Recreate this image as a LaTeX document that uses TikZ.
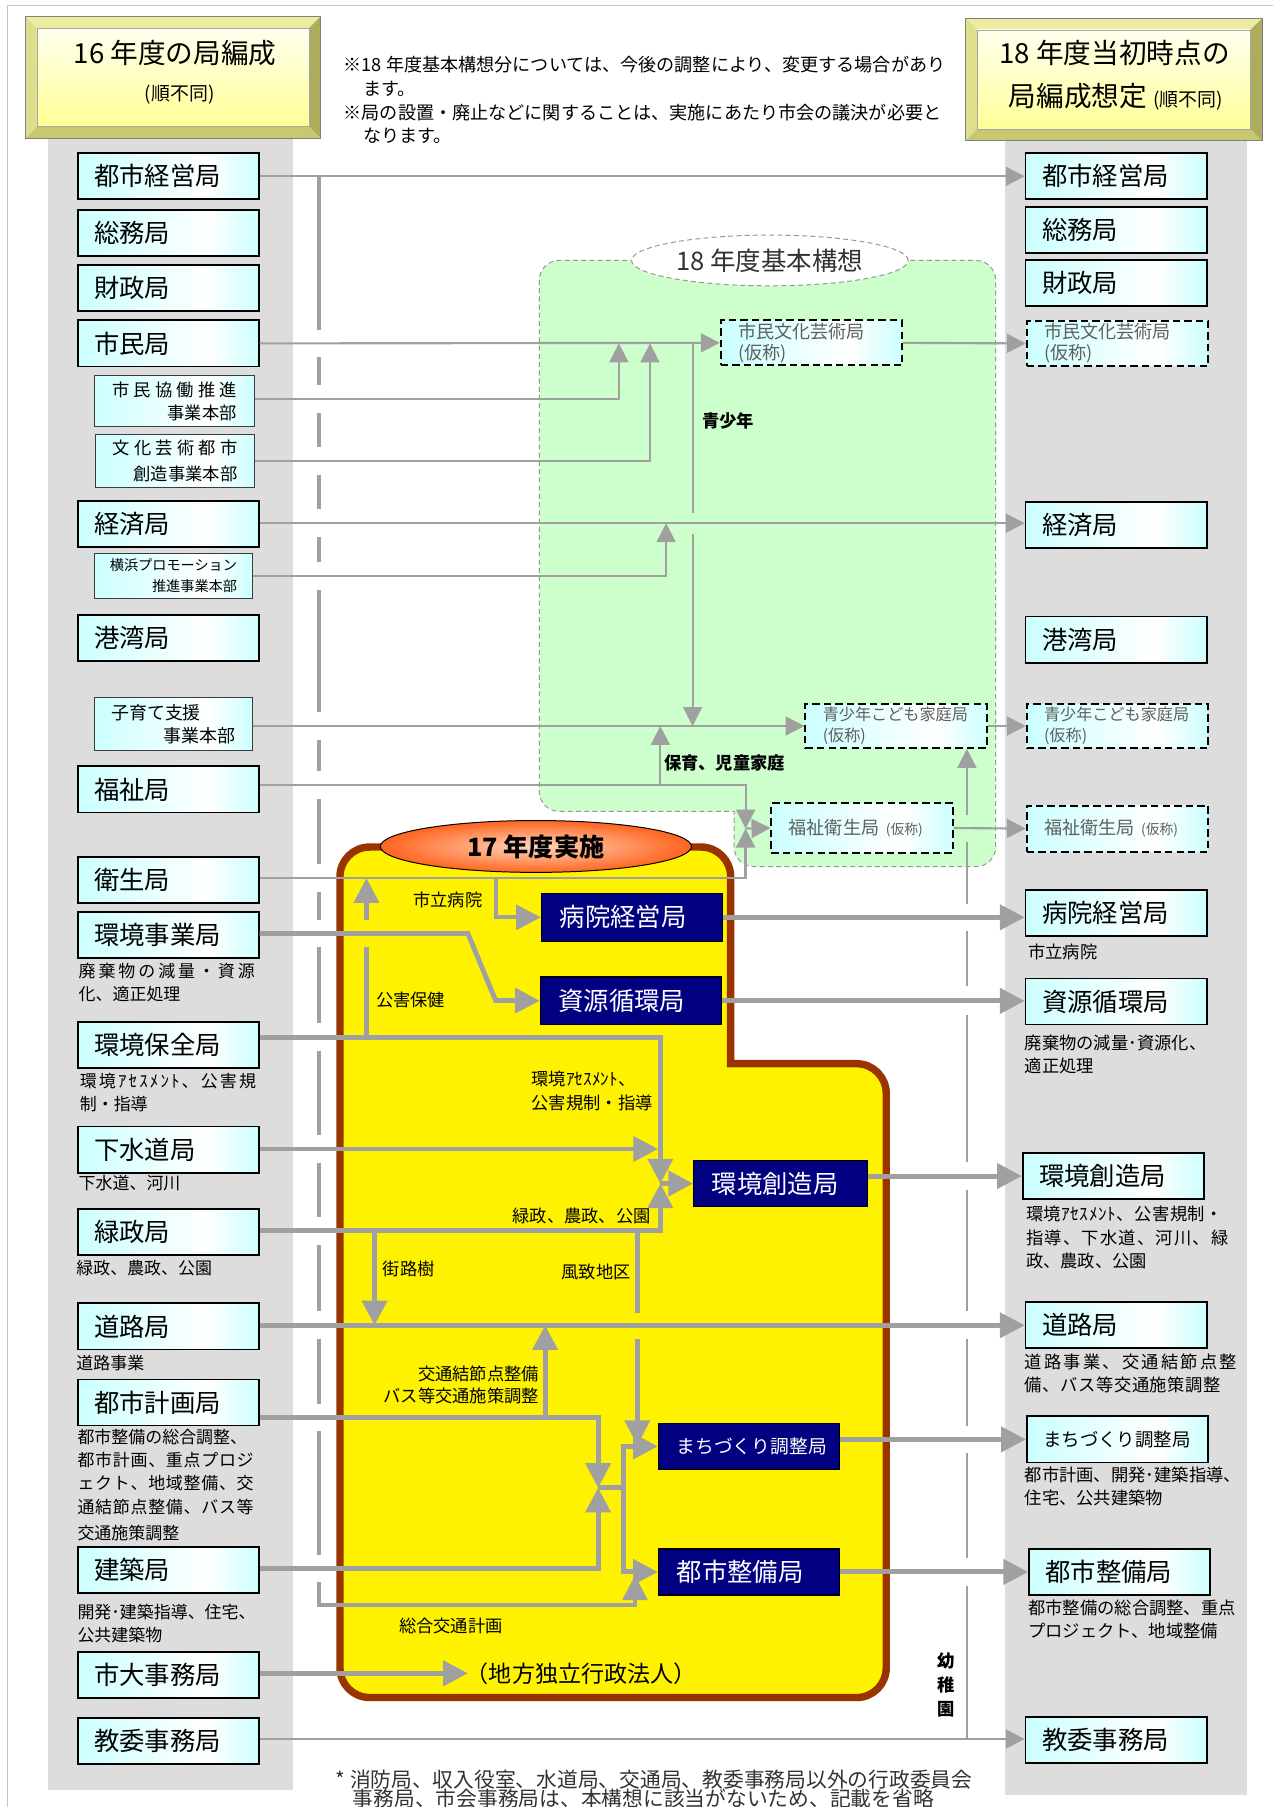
\documentclass[tikz,border=0pt]{standalone}
\usepackage{fontspec}
\setmainfont{Noto Sans CJK JP}
\usetikzlibrary{arrows.meta,shapes.geometric}
\definecolor{cyb}{RGB}{204,255,255}
\definecolor{lg}{RGB}{160,160,160}
\definecolor{colbg}{RGB}{221,221,221}
\definecolor{navyc}{RGB}{0,0,128}
\definecolor{brn}{RGB}{153,51,0}
\definecolor{grn}{RGB}{204,255,204}
\definecolor{bevT}{RGB}{236,236,160}
\definecolor{bevL}{RGB}{222,222,140}
\definecolor{bevR}{RGB}{172,172,92}
\definecolor{bevB}{RGB}{200,200,112}
\definecolor{frm}{RGB}{195,195,195}
\definecolor{dtx}{RGB}{95,95,95}
\pgfdeclarehorizontalshading{cyanbox}{100bp}{color(0bp)=(cyb); color(25bp)=(cyb); color(61bp)=(white); color(75bp)=(cyb); color(100bp)=(cyb)}
\newcommand\fs[2]{\fontsize{#1pt}{#2pt}\selectfont}
\def\SprdA#1{#1\SprdB}
\def\SprdB#1{\ifx#1\relax\else\hfill#1\expandafter\SprdB\fi}
\newcommand\spreadtxt[2]{\makebox[#1][s]{\SprdA#2\relax}}
\newcommand\bevbox[4]{%
  \fill[bevT] (#1,#2) -- (#3,#2) -- ({#3-10},{#2+10}) -- ({#1+10},{#2+10}) -- cycle;
  \fill[bevL] (#1,#2) -- ({#1+10},{#2+10}) -- ({#1+10},{#4-10}) -- (#1,#4) -- cycle;
  \fill[bevR] (#3,#2) -- (#3,#4) -- ({#3-10},{#4-10}) -- ({#3-10},{#2+10}) -- cycle;
  \fill[bevB] (#1,#4) -- ({#1+10},{#4-10}) -- ({#3-10},{#4-10}) -- (#3,#4) -- cycle;
  \shade[top color={rgb,255:red,255;green,255;blue,238}, bottom color={rgb,255:red,255;green,255;blue,150}] ({#1+10},{#2+10}) rectangle ({#3-10},{#4-10});
  \draw[gray, line width=0.5pt] (#1,#2) rectangle (#3,#4);
  \draw[gray!70, line width=0.4pt] ({#1+10},{#2+10}) rectangle ({#3-10},{#4-10});
}
\begin{document}
\begin{tikzpicture}[x=0.7pt,y=-0.7pt,
  lbox/.style={draw=black, line width=1.1pt, shade, shading=cyanbox, minimum width=110pt, minimum height=28pt, inner xsep=10pt, inner ysep=0pt, text width=90pt, align=left, font=\fs{15.4}{18}},
  sbox/.style={draw={rgb,255:red,60;green,60;blue,60}, line width=0.7pt, shade, shading=cyanbox, inner sep=0pt, align=right},
  dbox/.style={draw=black, line width=1.2pt, dash pattern=on 4.5pt off 2.5pt, shade, shading=cyanbox, minimum width=110pt, inner xsep=10.5pt, inner ysep=0pt, text width=89pt, align=left, text=dtx},
  nbox/.style={draw=black, line width=0.8pt, fill=navyc, text=white, minimum width=110pt, minimum height=29pt, inner xsep=11pt, inner ysep=0pt, text width=88pt, align=left, font=\fs{15.4}{18}},
  lcapt/.style={anchor=west, inner sep=0pt, font=\fs{10.3}{12}},
  rcapt/.style={anchor=west, inner sep=0pt, font=\fs{10.5}{12}},
  lab/.style={inner sep=0pt, font=\fs{10.5}{12}},
  notetxt/.style={anchor=west, inner sep=0pt, font=\fs{11}{13}},
  glin/.style={draw=lg, line width=1.3pt},
  gthk/.style={draw=lg, line width=3pt},
  gmid/.style={draw=lg, line width=2.4pt},
  tA/.style={-{Triangle[length=11.5pt,width=11.5pt]}},
  TA/.style={-{Triangle[length=15pt,width=15pt]}}
]
\useasboundingbox (0,0) rectangle (1105,1568);
\fill[white] (0,0) rectangle (1105,1568);
% frame
\draw[frm, line width=0.8pt] (1105,5) -- (6.5,5) -- (6.5,1568);
% gray columns
\fill[colbg] (42,119) rectangle (254,1553);
\fill[colbg] (872,121) rectangle (1082,1558);
% title boxes
\bevbox{22}{14.5}{278}{120}
\bevbox{838}{16}{1095}{122}
\node[font=\fs{16.8}{20}, inner sep=0pt] (t16a) at (152,46) {16 年度の局編成};
\node[font=\fs{11.5}{14}, inner sep=0pt] (t16b) at (156,82) {(順不同)};
\node[font=\fs{16.8}{20}, inner sep=0pt] (t18a) at (967,46) {18 年度当初時点の};
\node[font=\fs{16.8}{20}, inner sep=0pt, anchor=west] (t18b) at (875,84) {局編成想定\hspace{4pt}{\fs{11.5}{14}(順不同)}};
% notes
\node[notetxt] (n1) at (298,56) {※18 年度基本構想分については、今後の調整により、変更する場合があり};
\node[notetxt] (n2) at (315,77) {ます。};
\node[notetxt] (n3) at (298,98) {※局の設置・廃止などに関することは、実施にあたり市会の議決が必要と};
\node[notetxt] (n4) at (315,118) {なります。};
% green region
\filldraw[fill=grn, draw={rgb,255:red,150;green,150;blue,150}, line width=0.6pt, dash pattern=on 3pt off 2pt]
  (468,500) [rounded corners=12pt] -- (468,226) -- (864,226) -- (864,752) -- (637,752) [sharp corners] -- (637,704) [rounded corners=12pt] -- (468,704) -- cycle;
\node[ellipse, draw={rgb,255:red,150;green,150;blue,150}, line width=0.6pt, dash pattern=on 3pt off 2pt, fill=white, minimum width=168pt, minimum height=30.8pt, inner sep=0pt, font=\fs{15.5}{18}, text={rgb,255:red,50;green,50;blue,50}] (e18) at (668,226) {18 年度基本構想};
% yellow region
\filldraw[fill=yellow, draw=brn, line width=4.5pt]
  (295,1100) [rounded corners=18pt] -- (295,735) -- (634,735) [sharp corners] -- (634,923) [rounded corners=18pt] -- (769,923) -- (769,1473) -- (295,1473) -- cycle;
\node[ellipse, draw=black, line width=0.6pt, inner color={rgb,255:red,255;green,215;blue,190}, outer color={rgb,255:red,255;green,100;blue,30}, minimum width=189pt, minimum height=31.5pt, inner sep=0pt, font=\bfseries\fs{15.3}{18}] (e17) at (465,734.5) {17 年度実施};

% ---------- left boxes
\node[lbox] (L1) at (146,153) {都市経営局};
\node[lbox] (L2) at (146,202) {総務局};
\node[lbox] (L3) at (146,250) {財政局};
\node[lbox] (L4) at (146,298) {市民局};
\node[sbox, minimum width=97.3pt, minimum height=30.8pt, font=\fs{10.5}{14}] (S1) at (151.5,348) {\spreadtxt{75.6pt}{市民協働推進}\\事業本部};
\node[sbox, minimum width=96.6pt, minimum height=32.2pt, font=\fs{10.5}{15.4}] (S2) at (152,400) {\spreadtxt{75.6pt}{文化芸術都市}\\創造事業本部};
\node[lbox] (L5) at (146,455) {経済局};
\node[sbox, minimum width=95.9pt, minimum height=27.3pt, font=\fs{8.6}{13.3}] (S3) at (150.5,499.5) {横浜プロモーション\\推進事業本部};
\node[lbox] (L6) at (146,553.5) {港湾局};
\node[sbox, minimum width=95.9pt, minimum height=32.2pt, font=\fs{10.9}{14}] (S4) at (150.5,628) {\makebox[75.6pt][l]{子育て支援}\\事業本部};
\node[lbox] (L7) at (146,685) {福祉局};
\node[lbox] (L8) at (146,763.5) {衛生局};
\node[lbox] (L9) at (146,811.5) {環境事業局};
\node[lbox] (L10) at (146,906.5) {環境保全局};
\node[lbox] (L11) at (146,997.5) {下水道局};
\node[lbox] (L12) at (146,1069) {緑政局};
\node[lbox] (L13) at (146,1151) {道路局};
\node[lbox] (L14) at (146,1217) {都市計画局};
\node[lbox] (L15) at (146,1362.5) {建築局};
\node[lbox] (L16) at (146,1453.5) {市大事務局};
\node[lbox] (L17) at (146,1511) {教委事務局};
% left captions
\node[lcapt] (c1) at (68,843) {\spreadtxt{107pt}{廃棄物の減量・資源}};
\node[lcapt] (c2) at (68,863) {化、適正処理};
\node[lcapt] (c3) at (69,938) {\spreadtxt{107pt}{環境ｱｾｽﾒﾝﾄ、公害規}};
\node[lcapt] (c4) at (69,958) {制・指導};
\node[lcapt] (c5) at (68,1027) {下水道、河川};
\node[lcapt] (c6) at (66,1100) {緑政、農政、公園};
\node[lcapt] (c7) at (66,1183) {道路事業};
\node[lcapt] (c8) at (67,1247) {都市整備の総合調整、};
\node[lcapt] (c9) at (67,1267) {\spreadtxt{107pt}{都市計画、重点プロジ}};
\node[lcapt] (c10) at (67,1287) {\spreadtxt{107pt}{ェクト、地域整備、交}};
\node[lcapt] (c11) at (67,1308) {\spreadtxt{107pt}{通結節点整備、バス等}};
\node[lcapt] (c12) at (67,1330) {交通施策調整};
\node[lcapt] (c13) at (67,1399) {\spreadtxt{105.7pt}{開発･建築指導、住宅、}};
\node[lcapt] (c14) at (67,1419) {公共建築物};

% ---------- right boxes
\node[lbox] (R1) at (968.5,153) {都市経営局};
\node[lbox] (R2) at (968.5,199.5) {総務局};
\node[lbox] (R3) at (968.5,245.5) {財政局};
\node[dbox, minimum height=27.3pt, font=\fs{11}{13}] (RD1) at (969.5,298) {市民文化芸術局\\(仮称)};
\node[lbox] (R4) at (968.5,455.5) {経済局};
\node[lbox] (R5) at (968.5,555) {港湾局};
\node[dbox, minimum height=26.6pt, font=\fs{9.8}{12.6}] (RD2) at (969.5,630) {青少年こども家庭局\\(仮称)};
\node[dbox, minimum height=28pt, font=\fs{11}{13}] (RD3) at (969.5,719) {福祉衛生局\hspace{4pt}{\fs{8.4}{10}(仮称)}};
\node[lbox] (R6) at (968.5,792) {病院経営局};
\node[lbox] (R7) at (968.5,869) {資源循環局};
\node[lbox] (R8) at (966,1020.5) {環境創造局};
\node[lbox] (R9) at (968.5,1150) {道路局};
\node[lbox, font=\fs{11.2}{14}] (R10) at (969.5,1249) {まちづくり調整局};
\node[lbox] (R11) at (971.5,1364) {都市整備局};
\node[lbox] (R12) at (968.5,1510) {教委事務局};
% right captions
\node[rcapt] (d1) at (892,826) {市立病院};
\node[rcapt] (d2) at (889,905) {\spreadtxt{108.5pt}{廃棄物の減量･資源化、}};
\node[rcapt] (d3) at (889,925) {適正処理};
\node[rcapt] (d4) at (890,1053) {\spreadtxt{119.7pt}{環境ｱｾｽﾒﾝﾄ、公害規制・}};
\node[rcapt] (d5) at (890,1074) {\spreadtxt{123pt}{指導、下水道、河川、緑}};
\node[rcapt] (d6) at (890,1094) {政、農政、公園};
\node[rcapt] (d7) at (889,1182) {\spreadtxt{128.8pt}{道路事業、交通結節点整}};
\node[rcapt] (d8) at (889,1202) {\spreadtxt{119pt}{備、バス等交通施策調整}};
\node[rcapt] (d9) at (889,1280) {\spreadtxt{127.4pt}{都市計画、開発･建築指導、}};
\node[rcapt] (d10) at (889,1300) {住宅、公共建築物};
\node[rcapt] (d11) at (892,1395) {都市整備の総合調整、重点};
\node[rcapt] (d12) at (892,1415) {プロジェクト、地域整備};

% ---------- green inner boxes
\node[dbox, minimum height=27.3pt, font=\fs{11}{13}] (G1) at (704,297.5) {市民文化芸術局\\(仮称)};
\node[dbox, minimum height=26.6pt, font=\fs{9.8}{12.6}] (G2) at (777.5,630) {青少年こども家庭局\\(仮称)};
\node[dbox, minimum height=30pt, font=\fs{11}{13}] (G3) at (748,718.5) {福祉衛生局\hspace{4pt}{\fs{8.4}{10}(仮称)}};

% ---------- navy boxes
\node[nbox] (N1) at (548.5,796) {病院経営局};
\node[nbox] (N2) at (547.5,868.5) {資源循環局};
\node[nbox, minimum width=105.7pt, text width=83.7pt, minimum height=28pt] (N3) at (677.5,1027) {環境創造局};
\node[nbox, minimum height=28pt, font=\fs{11.4}{14}] (N4) at (650,1255) {まちづくり調整局};
\node[nbox, minimum height=28pt] (N5) at (650,1364) {都市整備局};

% ---------- labels
\node[lab, font=\bfseries\fs{10.5}{12}, anchor=west] (k1) at (609,365) {青少年};
\node[lab, font=\bfseries\fs{10.5}{12}, anchor=west] (k2) at (576,662) {保育、児童家庭};
\node[lab, anchor=east] (k3) at (419,781) {市立病院};
\node[lab, anchor=west] (k4) at (326,868) {公害保健};
\node[lab, anchor=west] (k5) at (461,936) {環境ｱｾｽﾒﾝﾄ、};
\node[lab, anchor=west] (k6) at (461,957) {公害規制・指導};
\node[lab, anchor=east] (k7) at (565,1055) {緑政、農政、公園};
\node[lab, anchor=west] (k8) at (332,1101) {街路樹};
\node[lab, anchor=west] (k9) at (487,1104) {風致地区};
\node[lab, anchor=east] (k10) at (468,1192) {交通結節点整備};
\node[lab, anchor=east] (k11) at (468,1211) {バス等交通施策調整};
\node[lab, anchor=west] (k12) at (346,1411) {総合交通計画};
\node[lab, font=\bfseries\fs{10.5}{14.7}, align=center] (k13) at (821,1462) {幼\\稚\\園};
\node[inner sep=0pt, anchor=west, font=\fs{14}{16}] (dok) at (404,1452) {（地方独立行政法人）};
% footnote
\node[inner sep=0pt, anchor=west, font=\fs{12.6}{15}, text=black!80] (fn1) at (291,1544) {* 消防局、収入役室、水道局、交通局、教委事務局以外の行政委員会};
\node[inner sep=0pt, anchor=west, font=\fs{12.6}{15}, text=black!80] (fn2) at (306,1561) {事務局、市会事務局は、本構想に該当がないため、記載を省略};

% ---------- connectors: left long vertical (総合交通計画)
\foreach \a/\b in {153/286, 310/334, 358/388, 412/442, 466/488, 512/618, 642/669, 693/750, 774/798, 822/888, 912/985, 1009/1056, 1080/1138, 1162/1218, 1242/1349}
  {\draw[gmid] (277,\a) -- (277,\b);}
\coordinate (vz) at (277,1373);
\draw[gmid, TA] (vz) -- (277,1393) -- (551,1393) -- (551,1367);

% thin connectors
\draw[glin, tA] (L1.east) -- (R1.west);
\draw[glin, tA] (L4.east) -- (G1.west);
\draw[glin, tA] (S1.east |- 0,346) -| (537,298);
\draw[glin, tA] (S2.east) -| (564,298);
\draw[glin, tA] (G1.east) -- (RD1.west);
\draw[glin] (601,298) -- (601,445);
\draw[glin, tA] (601,463) -- (601,630);
\draw[glin, tA] (L5.east |- 0,454) -- (R4.west |- 0,454);
\draw[glin, tA] (S3.east) -| (578,454);
\draw[glin, tA] (S4.east |- G2.west) -- (G2.west);
\draw[glin, tA] (G2.east) -- (RD2.west);
\draw[glin, tA] (L7.east |- 0,681) -- (647,681) -- (647,719);
\draw[glin, tA] (573,681) -- (573,630);
\draw[glin, line width=1.6pt, tA] (L8.east |- 0,762) -- (647,762) -- (647,719);
\coordinate (J1) at (647,719);
\draw[glin, tA] (J1) -- (G3.west);
\draw[glin, tA] (G3.east) -- (RD3.west);
\draw[glin, tA] (L17.east |- 0,1509) -- (R12.west |- 0,1509);
\foreach \a/\b in {731/784, 808/856, 881/1008, 1033/1138, 1162/1237, 1261/1352, 1376/1509}
  {\draw[glin] (839,\a) -- (839,\b);}
\draw[glin, tA] (839,707) -- (G2.south -| 839,0);

% thick connectors (yellow area)
\draw[gthk] (318,900) -- (318,822);
\draw[gthk, TA] (318,798) -- (318,762);
\draw[gmid, TA] (430,762) |- (N1.west);
\draw[gthk, TA] (L9.east |- 0,810) -- (406,810) -- (430,868) -- (N2.west);
\draw[gthk, TA] (L10.east |- 0,900) -| (573,1027);
\draw[gthk, TA] (L11.east |- 0,997) -- (571,997);
\draw[gthk, TA] (L12.east |- 0,1068) -| (573,1027);
\coordinate (J2) at (573,1027);
\draw[gthk, TA] (J2) -- (N3.west);
\draw[gthk, TA] (325,1068) -- (325,1150);
\draw[gthk] (553,1068) -- (553,1139);
\draw[gthk, TA] (553,1162) -- (553,1254);
\draw[gthk, TA] (L13.east |- 0,1150) -- (R9.west);
\draw[gthk, TA] (473,1230) -- (473,1150);
\draw[gthk, TA] (L14.east |- 0,1230) -| (519,1291);
\draw[gthk, TA] (L15.east |- 0,1361) -| (519,1291);
\coordinate (J3) at (519,1291);
\coordinate (J4) at (541,1291);
\draw[gthk] (J3) -- (J4);
\draw[gthk, TA] (J4) |- (N4.west);
\draw[gthk, TA] (J4) |- (N5.west);
\draw[gthk, TA] (L16.east |- 0,1452) -- (406,1452);
% navy to right
\draw[gthk, TA] (N1.east) -- (N1.east -| R6.west);
\draw[gthk, TA] (N2.east) -- (N2.east -| R7.west);
\draw[gthk, TA] (N3.east |- R8.west) -- (R8.west);
\draw[gthk, TA] (N4.east |- R10.west) -- (R10.west);
\draw[gthk, TA] (N5.east) -- (N5.east -| R11.west);
\end{tikzpicture}
\end{document}
